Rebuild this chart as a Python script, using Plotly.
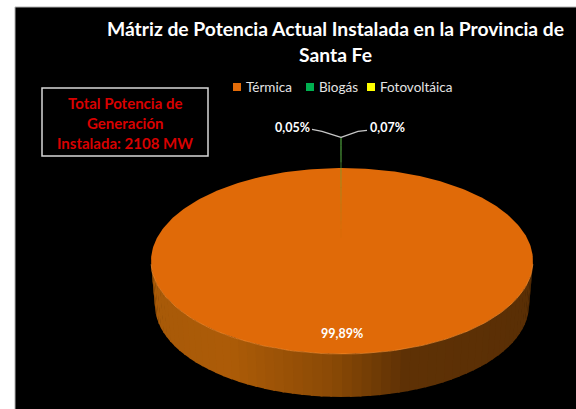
import math
import plotly.graph_objects as go

# ---- data ----
categories = ["Térmica", "Biogás", "Fotovoltáica"]
shares = [99.89, 0.05, 0.07]
share_labels = ["99,89%", "0,05%", "0,07%"]
colors = ["#E06A08", "#3DA04A", "#FFFF00"]
legend_colors = ["#E36C09", "#00B050", "#FFFF00"]
title_lines = ["Mátriz de Potencia Actual Instalada en la Provincia de", "Santa Fe"]
box_lines = ["Total Potencia de", "Generación", "Instalada: 2108 MW"]

# ---- geometry / style ----
W, H = 576, 409
CX, CY, A, B = 342, 261, 191, 93      # top face
BY, BA, BB = 305, 187, 92             # bottom rim
FONT = "Lato, Carlito, sans-serif"
legend_x = [237, 310, 371]
legend_y = 87
side_stops = [(150, (168, 90, 8)), (228, (173, 92, 8)), (330, (139, 74, 6)),
              (404, (95, 50, 5)), (535, (90, 47, 5))]


def side_color(x):
    for (x0, c0), (x1, c1) in zip(side_stops, side_stops[1:]):
        if x <= x1:
            t = max(0, (x - x0) / (x1 - x0))
            return "rgb(%d,%d,%d)" % tuple(c0[i] + (c1[i] - c0[i]) * t for i in range(3))
    return "rgb(%d,%d,%d)" % side_stops[-1][1]


def top_pt(deg, r=1.0):
    # degrees clockwise from 12 o'clock
    a = math.radians(deg)
    return CX + A * r * math.sin(a), CY - B * r * math.cos(a)


fig = go.Figure()


def poly(xs, ys, color, line=0, opacity=1.0):
    fig.add_trace(go.Scatter(x=xs, y=ys, mode="lines", fill="toself", fillcolor=color,
                             line=dict(color=color, width=line), opacity=opacity,
                             showlegend=False, hoverinfo="skip"))


# side wall, lower half
STEP = 3
for d in range(90, 270, STEP):
    ts = [d, d + STEP + 0.6]
    xt = [CX + A * math.sin(math.radians(t)) for t in ts]
    yt = [CY - B * math.cos(math.radians(t)) for t in ts]
    xb = [CX + BA * math.sin(math.radians(t)) for t in ts]
    yb = [BY - BB * math.cos(math.radians(t)) for t in ts]
    poly(xt + xb[::-1], yt + yb[::-1], side_color(sum(xt) / 2))

# top face (whole disc behind the slices, so the narrow notch stays orange)
pts = [top_pt(d) for d in range(0, 361)]
poly([p[0] for p in pts], [p[1] for p in pts], colors[0])

# rim highlight along the front edge
rim = [top_pt(d) for d in range(92, 269, 2)]
fig.add_trace(go.Scatter(x=[p[0] for p in rim], y=[p[1] for p in rim], mode="lines",
                         line=dict(color="#EE8A2E", width=1), opacity=0.7,
                         showlegend=False, hoverinfo="skip"))

# the thin exploded slices
total = sum(shares)
PULL_START, PULL_END = 0.25, 1.33
LX = CX - 1
for i in (2, 1):
    arc = shares[i] / total * 2 * math.pi * A   # outer arc length in px
    segs = 12
    for s in range(segs):
        r0 = PULL_START + (PULL_END - PULL_START) * s / segs
        r1 = PULL_START + (PULL_END - PULL_START) * (s + 1) / segs
        w0 = arc * 1.7 * (0.35 + 0.65 * r0 / PULL_END)
        w1 = arc * 1.7 * (0.35 + 0.65 * r1 / PULL_END)
        if r0 >= 1:
            op = 1.0
        else:
            op = 0.08 + 0.6 * (r0 - PULL_START) / (1 - PULL_START)
        if i == 2:
            op *= 0.2
        y0, y1 = CY - B * r0, CY - B * r1
        poly([LX - w0 / 2, LX + w0 / 2, LX + w1 / 2, LX - w1 / 2],
             [y0, y0, y1, y1], colors[i], opacity=op)

# leader lines
VY = CY - B * PULL_END
fig.add_trace(go.Scatter(x=[LX - 29, LX - 19, LX], y=[VY - 8, VY - 6, VY], mode="lines",
                         line=dict(color="#C8C8C8", width=1.2), showlegend=False, hoverinfo="skip"))
fig.add_trace(go.Scatter(x=[LX, LX + 17, LX + 26], y=[VY, VY - 6, VY - 7], mode="lines",
                         line=dict(color="#C8C8C8", width=1.2), showlegend=False, hoverinfo="skip"))

# legend entries
for name, c, lx in zip(categories, legend_colors, legend_x):
    fig.add_trace(go.Scatter(x=[lx], y=[legend_y], mode="markers", name=name,
                             marker=dict(symbol="square", size=8, color=c),
                             showlegend=False, hoverinfo="name"))

anns = [
    dict(x=335, y=28, text=title_lines[0], font=dict(size=19.3, color="white", family=FONT, weight="bold")),
    dict(x=335, y=54, text=title_lines[1], font=dict(size=19.3, color="white", family=FONT, weight="bold")),
    dict(x=292, y=127, text=share_labels[1], font=dict(size=12.5, color="white", family=FONT, weight="bold")),
    dict(x=387, y=127, text=share_labels[2], font=dict(size=12.5, color="white", family=FONT, weight="bold")),
    dict(x=342, y=333, text=share_labels[0], font=dict(size=12.5, color="white", family=FONT, weight="bold")),
]
for yy, t in zip((103, 123, 143), box_lines):
    anns.append(dict(x=125, y=yy, text=t, font=dict(size=15, color="#D80000", family=FONT, weight="bold")))
for a in anns:
    a.update(xanchor="center")
for name, lx in zip(categories, legend_x):
    anns.append(dict(x=lx + 7, y=legend_y, text=name, xanchor="left",
                     font=dict(size=13.5, color="#E4E4E4", family=FONT)))
for a in anns:
    a.update(xref="x", yref="y", showarrow=False, yanchor="middle")

fig.update_layout(
    width=W, height=H, margin=dict(l=0, r=0, t=0, b=0),
    paper_bgcolor="white", plot_bgcolor="white",
    xaxis=dict(range=[0, W], visible=False, fixedrange=True),
    yaxis=dict(range=[H, 0], visible=False, fixedrange=True),
    shapes=[
        dict(type="rect", xref="x", yref="y", x0=15, y0=7, x1=W + 2, y1=H + 2,
             fillcolor="black", line=dict(color="#B0B0B0", width=1), layer="below"),
        dict(type="rect", xref="x", yref="y", x0=42, y0=88, x1=208, y1=156,
             fillcolor="rgba(0,0,0,0)", line=dict(color="#D8D8D8", width=1.5), layer="above"),
    ],
    annotations=anns,
    showlegend=False,
)

fig.write_html("out.html", config=dict(displayModeBar=False),
               post_script="document.body.style.margin='0';document.documentElement.style.overflow='hidden';")
